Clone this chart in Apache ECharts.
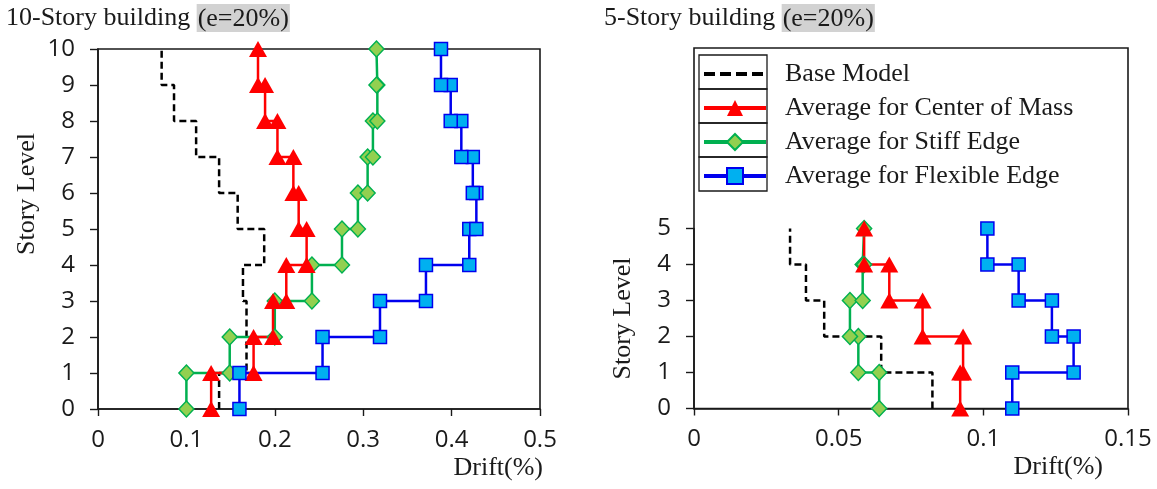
<!DOCTYPE html>
<html>
<head>
<meta charset="utf-8">
<script src="https://cdn.jsdelivr.net/npm/echarts@6/dist/echarts.min.js"></script>
<style>
  html, body { margin: 0; padding: 0; background: #ffffff; }
  #chart { width: 1157px; height: 489px; }
</style>
</head>
<body>
<div id="chart"></div>
<script>
// Drift (%) per story, listed from story 1 (ground) upward.
const seriesNames = [
  'Base Model',
  'Average for Center of Mass',
  'Average for Stiff Edge',
  'Average for Flexible Edge'
];

// 10-story building (e=20%)
const base10   = [0.137, 0.168, 0.168, 0.164, 0.188, 0.158, 0.137, 0.111, 0.086, 0.072];
const center10 = [0.128, 0.176, 0.198, 0.213, 0.236, 0.227, 0.221, 0.203, 0.189, 0.181];
const stiff10  = [0.100, 0.149, 0.200, 0.242, 0.276, 0.294, 0.305, 0.311, 0.316, 0.315];
const flex10   = [0.160, 0.254, 0.319, 0.371, 0.420, 0.428, 0.424, 0.411, 0.399, 0.388];

// 5-story building (e=20%)
const base5   = [0.0824, 0.0647, 0.0450, 0.0387, 0.0332];
const center5 = [0.0920, 0.0930, 0.0790, 0.0675, 0.0588];
const stiff5  = [0.0640, 0.0568, 0.0539, 0.0583, 0.0588];
const flex5   = [0.1100, 0.1312, 0.1237, 0.1122, 0.1014];

// Axis ranges
const xMax10 = 0.5, xStep10 = 0.1, yMax10 = 10;
const xMax5 = 0.15, xStep5 = 0.05, yMax5 = 5;

// A story's drift holds from the floor below it up to its own level,
// so each story contributes a vertical segment: (d, i-1) -> (d, i).
function storySteps(drifts) {
  const pts = [];
  drifts.forEach(function (d, i) {
    pts.push([d, i]);
    pts.push([d, i + 1]);
  });
  return pts;
}

const serifFont = '"Liberation Serif", "Times New Roman", serif';
const sansFont = '"Open Sans", "Noto Sans", sans-serif';
const ink = '#1a1a1a';

const styles = {
  'Base Model': {
    symbol: 'none',
    lineStyle: { color: '#000000', width: 2.5, type: [7, 4] },
    itemStyle: { color: '#000000' }
  },
  'Average for Center of Mass': {
    symbol: 'triangle', symbolSize: [18, 16],
    lineStyle: { color: '#ff0000', width: 2.5 },
    itemStyle: { color: '#ff0000' }
  },
  'Average for Stiff Edge': {
    symbol: 'diamond', symbolSize: [15, 16],
    lineStyle: { color: '#00b050', width: 2.5 },
    itemStyle: { color: '#92d050', borderColor: '#00b050', borderWidth: 1.5 }
  },
  'Average for Flexible Edge': {
    symbol: 'rect', symbolSize: 13,
    lineStyle: { color: '#0000ee', width: 2.5 },
    itemStyle: { color: '#00b0f0', borderColor: '#0000ee', borderWidth: 1.5 }
  }
};

function makeSeries(name, drifts, axisIndex) {
  const s = styles[name];
  return {
    name: name,
    type: 'line',
    xAxisIndex: axisIndex,
    yAxisIndex: axisIndex,
    data: storySteps(drifts),
    symbol: s.symbol,
    symbolSize: s.symbolSize,
    showSymbol: s.symbol !== 'none',
    lineStyle: s.lineStyle,
    itemStyle: s.itemStyle,
    emphasis: { disabled: true },
    animation: false
  };
}

const axisLineStyle = { show: true, lineStyle: { color: ink, width: 1.6 } };
const tickStyle = { show: true, inside: false, lineStyle: { color: ink, width: 1.4 } };
const tickLabel = { color: ink, fontFamily: sansFont, fontSize: 24 };

function driftAxis(grid, max, step, nameGap) {
  return {
    gridIndex: grid, type: 'value', min: 0, max: max, interval: step,
    axisLine: axisLineStyle,
    axisTick: Object.assign({ length: 7 }, tickStyle),
    axisLabel: Object.assign({ margin: 19 }, tickLabel),
    splitLine: { show: false },
    name: 'Drift(%)', nameLocation: 'end', nameGap: nameGap,
    nameMoveOverlap: false,
    nameTextStyle: {
      fontFamily: serifFont, fontSize: 26, color: ink,
      align: 'right', verticalAlign: 'top', lineHeight: 28,
      padding: [45, 0, 0, 0]
    }
  };
}

// shift moves the rotated name along the axis (positive = upward)
function levelAxis(grid, max, nameGap, shift) {
  return {
    gridIndex: grid, type: 'value', min: 0, max: max, interval: 1,
    axisLine: axisLineStyle,
    axisTick: Object.assign({ length: 8 }, tickStyle),
    axisLabel: Object.assign({ margin: 23 }, tickLabel),
    splitLine: { show: false },
    name: 'Story Level', nameLocation: 'middle', nameGap: nameGap,
    nameMoveOverlap: false,
    nameTextStyle: {
      fontFamily: serifFont, fontSize: 26, color: ink,
      padding: shift > 0 ? [0, 0, 0, 2 * shift] : [0, -2 * shift, 0, 0]
    }
  };
}

function hiddenAxis(grid) {
  return { gridIndex: grid, type: 'value', min: 0, max: 1, show: false };
}

function titleText(story) {
  return '{a|' + story + '-Story building }{b|(e=20%)}';
}
const titleRich = {
  a: { fontFamily: serifFont, fontSize: 26, fontWeight: 'normal', color: ink },
  b: { fontFamily: serifFont, fontSize: 26, fontWeight: 'normal', color: ink,
       backgroundColor: '#d2d2d2', padding: [2, 1, 0, 1] }
};

// Legend key cells (table style boxes)
const legendCells = [0, 1, 2, 3].map(function (k) {
  return {
    type: 'rect',
    shape: { x: 699, y: 55 + k * 34, width: 68, height: 34 },
    style: { fill: 'none', stroke: ink, lineWidth: 1.3 },
    silent: true, z: 10
  };
});

const chart = echarts.init(document.getElementById('chart'), null, { renderer: 'canvas' });

chart.setOption({
  animation: false,
  backgroundColor: '#ffffff',
  title: [
    { text: titleText(10), left: 6, top: 4, padding: 0,
      textStyle: { fontWeight: 'normal', rich: titleRich } },
    { text: titleText(5), left: 604, top: 4, padding: 0,
      textStyle: { fontWeight: 'normal', rich: titleRich } }
  ],
  grid: [
    // 10-story panel
    { left: 98, top: 49, width: 442, height: 360, show: true, borderColor: ink, borderWidth: 1.6,
      backgroundColor: 'transparent', outerBoundsMode: 'none', containLabel: false },
    // 5-story panel frame
    { left: 694, top: 48, width: 434, height: 360.5, show: true, borderColor: ink, borderWidth: 1.6,
      backgroundColor: 'transparent', outerBoundsMode: 'none', containLabel: false },
    // 5-story panel plotting area (levels 0-5)
    { left: 694, top: 228.5, width: 434, height: 180, outerBoundsMode: 'none', containLabel: false }
  ],
  xAxis: [
    driftAxis(0, xMax10, xStep10, 3),
    hiddenAxis(1),
    driftAxis(2, xMax5, xStep5, -25)
  ],
  yAxis: [
    levelAxis(0, yMax10, 58, 35),
    hiddenAxis(1),
    levelAxis(2, yMax5, 58, 0)
  ],
  legend: {
    data: [
      { name: seriesNames[0], itemStyle: { opacity: 0 }, lineStyle: { type: [11, 5] } },
      seriesNames[1],
      seriesNames[2],
      seriesNames[3]
    ],
    orient: 'vertical',
    left: 702, top: 61, padding: 0,
    itemWidth: 62, itemHeight: 20, itemGap: 8,
    selectedMode: false,
    lineStyle: { width: 4 },
    textStyle: { fontFamily: serifFont, fontSize: 26, color: ink, padding: [0, 0, 0, 14] }
  },
  graphic: legendCells,
  series: [
    makeSeries(seriesNames[0], base10, 0),
    makeSeries(seriesNames[2], stiff10, 0),
    makeSeries(seriesNames[1], center10, 0),
    makeSeries(seriesNames[3], flex10, 0),
    makeSeries(seriesNames[0], base5, 2),
    makeSeries(seriesNames[2], stiff5, 2),
    makeSeries(seriesNames[1], center5, 2),
    makeSeries(seriesNames[3], flex5, 2)
  ]
});
</script>
</body>
</html>
